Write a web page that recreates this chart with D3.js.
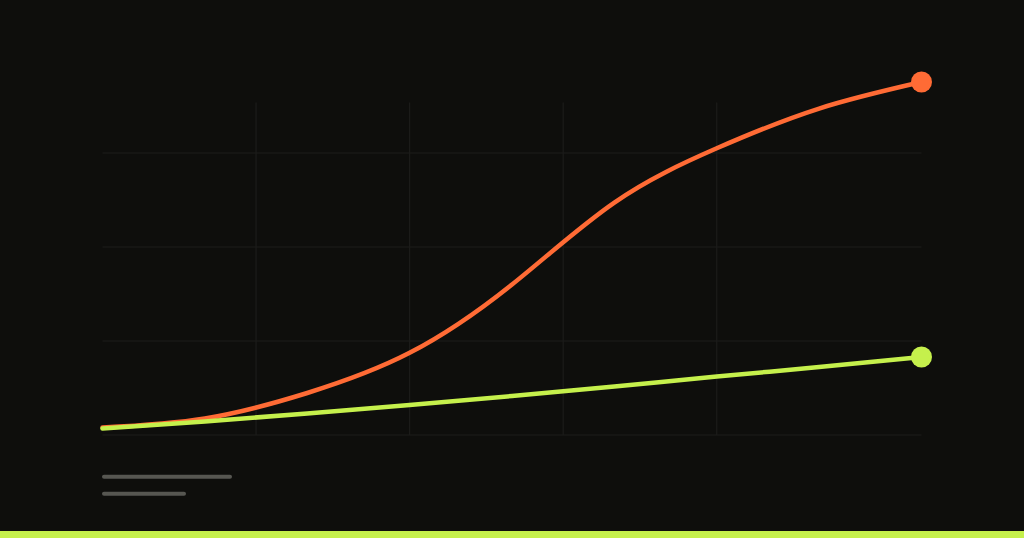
<!DOCTYPE html>
<html>
<head>
<meta charset="utf-8">
<script src="https://cdn.jsdelivr.net/npm/d3@7"></script>
<style>
  html, body { margin: 0; padding: 0; background: #0e0e0c; }
  svg { display: block; }
</style>
</head>
<body>
<svg id="chart" width="1024" height="538"></svg>
<script>
// data (y in grid units of 100)
const steps = [0, 2, 4, 6, 8, 10, 12, 14, 16]
const orangeValues = [8, 17.6, 44.7, 87.4, 160.1, 247.3, 305, 347.3, 375.5]
const greenValues = [6.9, 14.4, 22.9, 31.9, 41.5, 51.6, 62.2, 72.3, 83]
const xGridTicks = [3, 6, 9, 12]
const yGridTicks = [0, 100, 200, 300]
const legendWidths = [128, 82]

const width = 1024
const height = 538
const left = 102.5
const right = 921.5
const bottom = 435
const gridTop = 102.5

const svg = d3.select('#chart')

svg.append('rect')
    .attr('width', width)
    .attr('height', height)
    .attr('fill', '#0e0e0c')

const xScale = d3.scaleLinear()
    .domain([0, 16])
    .range([left, right])
const yScale = d3.scaleLinear()
    .domain([0, 400])
    .range([bottom, 59])

// grid
svg.append('g')
    .selectAll('line')
    .data(yGridTicks)
    .enter()
    .append('line')
    .attr('x1', left)
    .attr('x2', right)
    .attr('y1', d => yScale(d))
    .attr('y2', d => yScale(d))
    .attr('stroke', '#1c1c1a')
    .attr('stroke-width', 1.2)

svg.append('g')
    .selectAll('line')
    .data(xGridTicks)
    .enter()
    .append('line')
    .attr('x1', d => xScale(d))
    .attr('x2', d => xScale(d))
    .attr('y1', gridTop)
    .attr('y2', bottom)
    .attr('stroke', '#1c1c1a')
    .attr('stroke-width', 1.2)

const line = d3.line()
    .x((d, i) => xScale(steps[i]))
    .y(d => yScale(d))
    .curve(d3.curveNatural)

const series = [
    { values: orangeValues, color: '#ff6b35' },
    { values: greenValues, color: '#c5f04c' }
]

series.forEach(s => {
    svg.append('path')
        .datum(s.values)
        .attr('d', line)
        .attr('fill', 'none')
        .attr('stroke', s.color)
        .attr('stroke-width', 4.5)
        .attr('stroke-linecap', 'round')
    const last = s.values.length - 1
    svg.append('circle')
        .attr('cx', xScale(steps[last]))
        .attr('cy', yScale(s.values[last]))
        .attr('r', 10.5)
        .attr('fill', s.color)
})

// legend placeholder bars
svg.append('g')
    .selectAll('line')
    .data(legendWidths)
    .enter()
    .append('line')
    .attr('x1', 104)
    .attr('x2', d => 102 + d)
    .attr('y1', (d, i) => 476.7 + i * 17)
    .attr('y2', (d, i) => 476.7 + i * 17)
    .attr('stroke', '#565651')
    .attr('stroke-width', 4)
    .attr('stroke-linecap', 'round')

// bottom stripe
svg.append('rect')
    .attr('x', 0)
    .attr('y', 531)
    .attr('width', width)
    .attr('height', 7)
    .attr('fill', '#c5f04c')
</script>
</body>
</html>
